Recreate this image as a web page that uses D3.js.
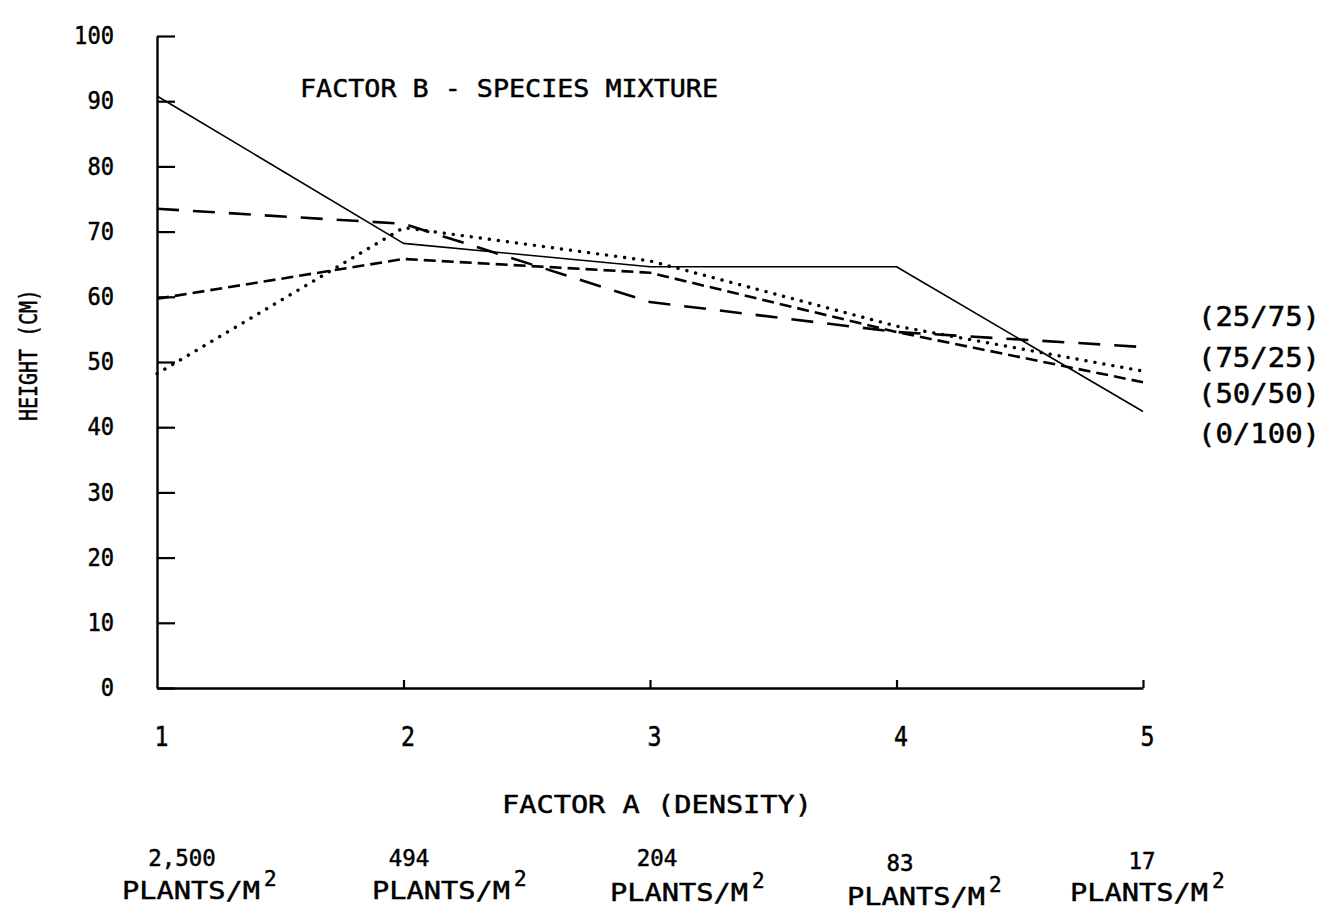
<!DOCTYPE html>
<html>
<head>
<meta charset="utf-8">
<script src="https://cdn.jsdelivr.net/npm/d3@7"></script>
<style>
  html, body { margin: 0; padding: 0; background: #fff; }
  svg { display: block; }
  text { font-family: "DejaVu Sans Mono", monospace; fill: #000; stroke: #000; stroke-width: 0.5px; }
</style>
</head>
<body>
<svg id="chart" width="1324" height="920"></svg>
<script>
// Density levels (Factor A) and their plant counts
const densityLevels = [1, 2, 3, 4, 5];
const plantCounts = ["2,500", "494", "204", "83", "17"];

// Mean height (cm) for each species mixture (Factor B)
const mix0_100  = [90.8, 68.2, 64.6, 64.6, 42.4];
const mix25_75  = [73.5, 71.2, 59.2, 54.6, 52.3];
const mix50_50  = [59.7, 65.8, 63.7, 54.6, 46.9];
const mix75_25  = [48.2, 70.6, 65.5, 55.5, 48.6];

const yTicks = [0, 10, 20, 30, 40, 50, 60, 70, 80, 90, 100];

const series = [
  { name: "(0/100)",  values: mix0_100, dash: null,    width: 1.6, cap: "butt" },
  { name: "(25/75)",  values: mix25_75, dash: "22,14", width: 2.6, cap: "butt" },
  { name: "(50/50)",  values: mix50_50, dash: "12,6",  width: 2.6, cap: "butt" },
  { name: "(75/25)",  values: mix75_25, dash: "0.1,9", width: 3.4, cap: "round" }
];

const svg = d3.select("#chart");

const x = d3.scaleLinear().domain([1, 5]).range([157, 1143]);
const y = d3.scaleLinear().domain([0, 100]).range([688, 36]);

// Narrow plotter-style lettering: fixed advance per character
function narrow(sel, perChar) {
  sel.attr("lengthAdjust", "spacingAndGlyphs")
     .attr("textLength", function () { return this.textContent.length * perChar; });
}

// Y axis: ticks pointing into the plot
const yAxis = d3.axisLeft(y)
  .tickValues(yTicks)
  .tickSizeInner(-18)
  .tickSizeOuter(0)
  .tickPadding(43)
  .tickFormat(d3.format("d"));

const gy = svg.append("g").attr("transform", `translate(${x(1)},0)`).call(yAxis);
gy.select(".domain").attr("stroke", "#000").attr("stroke-width", 2.4);
gy.selectAll(".tick line").attr("stroke", "#000").attr("stroke-width", 2.2);
gy.selectAll(".tick text")
  .attr("font-family", "DejaVu Sans Mono")
  .style("font-size", "24px")
  .call(narrow, 13.3);

// X axis: small upward ticks
const xAxis = d3.axisBottom(x)
  .tickValues(densityLevels)
  .tickSizeInner(-8)
  .tickSizeOuter(0)
  .tickPadding(39)
  .tickFormat(d3.format("d"));

const gx = svg.append("g").attr("transform", `translate(0,${y(0)})`).call(xAxis);
gx.select(".domain").attr("stroke", "#000").attr("stroke-width", 2.4);
gx.selectAll(".tick line").attr("stroke", "#000").attr("stroke-width", 2.2)
  .attr("opacity", d => d === 1 ? 0 : 1);
gx.selectAll(".tick text")
  .attr("font-family", "DejaVu Sans Mono")
  .style("font-size", "27px")
  .attr("dx", "4")
  .call(narrow, 14);

// Series lines
const line = d3.line()
  .x((d, i) => x(densityLevels[i]))
  .y(d => y(d));

svg.append("g").selectAll("path")
  .data(series)
  .join("path")
  .attr("d", s => line(s.values))
  .attr("fill", "none")
  .attr("stroke", "#000")
  .attr("stroke-width", s => s.width)
  .attr("stroke-linecap", s => s.cap)
  .attr("stroke-linejoin", "round")
  .attr("stroke-dasharray", s => s.dash);

// Title
svg.append("text")
  .attr("x", 300).attr("y", 97)
  .attr("textLength", 418).attr("lengthAdjust", "spacingAndGlyphs")
  .style("font-size", "25px")
  .text("FACTOR B - SPECIES MIXTURE");

// Mixture labels at the right
const legendRows = [
  { name: "(25/75)", y: 326 },
  { name: "(75/25)", y: 367 },
  { name: "(50/50)", y: 403 },
  { name: "(0/100)", y: 443 }
];
svg.append("g").selectAll("text")
  .data(legendRows)
  .join("text")
  .attr("x", 1198).attr("y", d => d.y)
  .attr("textLength", 122).attr("lengthAdjust", "spacingAndGlyphs")
  .style("font-size", "26px")
  .text(d => d.name);

// Y axis title
svg.append("text")
  .attr("transform", "translate(37,355) rotate(-90)")
  .attr("text-anchor", "middle")
  .attr("textLength", 132).attr("lengthAdjust", "spacingAndGlyphs")
  .style("font-size", "24px")
  .text("HEIGHT (CM)");

// X axis title
svg.append("text")
  .attr("x", 502).attr("y", 813)
  .attr("textLength", 310).attr("lengthAdjust", "spacingAndGlyphs")
  .style("font-size", "25px")
  .text("FACTOR A (DENSITY)");

// Plant density captions under each level
const captionPos = [
  { cx: 182, top: 866, px: 122, py: 899 },
  { cx: 409, top: 866, px: 372, py: 899 },
  { cx: 657, top: 866, px: 610, py: 901 },
  { cx: 900, top: 871, px: 847, py: 905 },
  { cx: 1142, top: 869, px: 1070, py: 901 }
];
const caps = svg.append("g").selectAll("g")
  .data(plantCounts)
  .join("g");
caps.append("text")
  .attr("x", (d, i) => captionPos[i].cx)
  .attr("y", (d, i) => captionPos[i].top)
  .attr("text-anchor", "middle")
  .style("font-size", "23px")
  .text(d => d)
  .call(narrow, 13.5);
caps.append("text")
  .attr("x", (d, i) => captionPos[i].px)
  .attr("y", (d, i) => captionPos[i].py)
  .attr("textLength", 138).attr("lengthAdjust", "spacingAndGlyphs")
  .style("font-size", "25px")
  .text("PLANTS/M");
caps.append("text")
  .attr("x", (d, i) => captionPos[i].px + 142)
  .attr("y", (d, i) => captionPos[i].py - 13)
  .style("font-size", "21px")
  .text("2");
</script>
</body>
</html>
